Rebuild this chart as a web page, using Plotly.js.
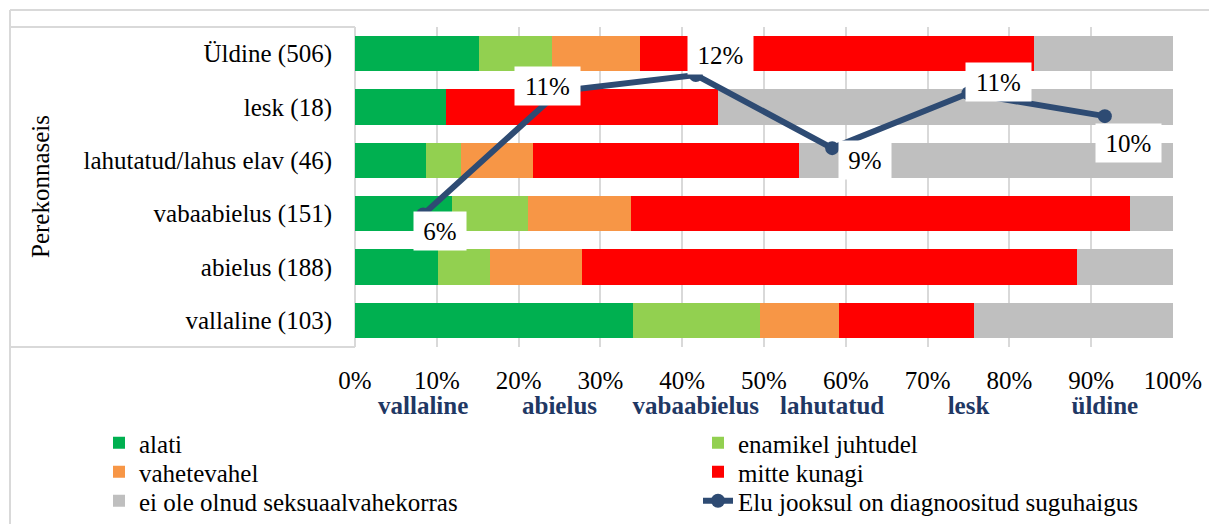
<!DOCTYPE html>
<html><head><meta charset="utf-8">
<script src="https://cdn.plot.ly/plotly-3.0.1.min.js"></script>
<style>html,body{margin:0;padding:0;background:#fff}#chart{width:1209px;height:524px}</style>
</head><body><div id="chart"></div>
<script>
// ---- data ----
const categories = ['Üldine (506)', 'lesk (18)', 'lahutatud/lahus elav (46)', 'vabaabielus (151)', 'abielus (188)', 'vallaline (103)'];
const seriesNames = ['alati', 'enamikel juhtudel', 'vahetevahel', 'mitte kunagi', 'ei ole olnud seksuaalvahekorras'];
const alati = [15.2, 11.1, 8.7, 11.9, 10.1, 34.0];
const enamikelJuhtudel = [8.9, 0, 4.3, 9.3, 6.4, 15.5];
const vahetevahel = [10.7, 0, 8.7, 12.6, 11.2, 9.7];
const mitteKunagi = [48.2, 33.3, 32.6, 60.9, 60.6, 16.5];
const eiOleOlnud = [17.0, 55.6, 45.7, 5.3, 11.7, 24.3];
const lineName = 'Elu jooksul on diagnoositud suguhaigus';
const lineCategories = ['vallaline', 'abielus', 'vabaabielus', 'lahutatud', 'lesk', 'üldine'];
const lineValues = [5.8, 11.2, 11.9, 8.7, 11.1, 10.1];
const xTickSuffix = '%';

// ---- styling / placement ----
const colors = ['#00B050', '#92D050', '#F79646', '#FF0000', '#BFBFBF'];
const lineColor = '#2E4B73';
const labelShift = [[17, -17], [-12, 5], [25, 20], [33, -12], [30, 11], [24, -27]];
const FONT = 'Liberation Serif, Times New Roman, serif';
// legend slot per entry (pixel positions of the legend box left edge / row centre)
const legendSlots = [[99, 443], [698, 443], [99, 472], [698, 472], [99, 501], [698, 501]];

// pixel helpers (plot area 355..1173 x 27..347)
const L = 355, T = 27, W = 818, H = 320;
const px = v => (v - L) / W;
const py = v => (T + H - v) / H;
const gline = (x0, y0, x1, y1) => ({type: 'line', xref: 'paper', yref: 'paper',
  x0: px(x0), y0: py(y0), x1: px(x1), y1: py(y1), line: {color: '#D9D9D9', width: 2}});
const legendId = i => i === 0 ? 'legend' : 'legend' + (i + 1);

const seriesValues = [alati, enamikelJuhtudel, vahetevahel, mitteKunagi, eiOleOlnud];
const traces = seriesValues.map((vals, i) => ({
  type: 'bar', orientation: 'h', name: seriesNames[i],
  x: vals, y: categories, xaxis: 'x', yaxis: 'y',
  marker: {color: colors[i], line: {width: 0}},
  legend: legendId(i), hoverinfo: 'skip'
}));
traces.push({
  type: 'scatter', mode: 'lines+markers', name: lineName,
  x: lineCategories, y: lineValues, xaxis: 'x2', yaxis: 'y2',
  line: {color: lineColor, width: 6}, marker: {color: lineColor, size: 14},
  legend: legendId(5), hoverinfo: 'skip'
});

const annotations = lineValues.map((v, i) => ({
  xref: 'x2', yref: 'y2', x: lineCategories[i], y: v,
  text: Math.round(v) + '%', showarrow: false,
  xanchor: 'center', yanchor: 'middle',
  xshift: labelShift[i][0], yshift: labelShift[i][1],
  bgcolor: '#FFFFFF', borderpad: 4,
  width: String(Math.round(v)).length > 1 ? 57 : 44, height: 30,
  font: {family: FONT, size: 25, color: '#000'}
}));
annotations.push({
  xref: 'paper', yref: 'paper', x: px(40), y: 0.5, xanchor: 'center', yanchor: 'middle',
  text: 'Perekonnaseis',
  textangle: -90, showarrow: false, font: {family: FONT, size: 25, color: '#000'}
});

const layout = {
  width: 1209, height: 524,
  margin: {l: L, r: 1209 - L - W, t: T, b: 524 - T - H, autoexpand: false},
  paper_bgcolor: '#fff', plot_bgcolor: '#fff',
  font: {family: FONT, size: 25, color: '#000'},
  barmode: 'stack', bargap: 0.333,
  showlegend: true,
  xaxis: {range: [0, 100], tick0: 0, dtick: 10, ticksuffix: xTickSuffix,
    tickfont: {family: FONT, size: 25, color: '#000'},
    showgrid: true, gridcolor: '#D9D9D9', gridwidth: 2,
    zeroline: true, zerolinecolor: '#D9D9D9', zerolinewidth: 2,
    showline: false, ticks: '', ticklabelstandoff: 16, automargin: false, fixedrange: true},
  yaxis: {type: 'category', autorange: 'reversed', showgrid: false, zeroline: false,
    tickfont: {family: FONT, size: 25, color: '#000'},
    showline: false, ticks: '', ticklabelstandoff: 22, automargin: false, fixedrange: true},
  xaxis2: {type: 'category', overlaying: 'x', side: 'bottom', anchor: 'y',
    categoryorder: 'array', categoryarray: lineCategories, range: [-0.5, 5.5],
    showgrid: false, zeroline: false, showline: false, ticks: '',
    tickfont: {family: FONT, size: 25, color: '#1F3864', weight: 'bold'},
    ticklabelstandoff: 41, automargin: false, fixedrange: true},
  yaxis2: {overlaying: 'y', range: [0, 14], visible: false, fixedrange: true},
  shapes: [
    gline(10, 10, 1209, 10),
    gline(10, 10, 10, 524),
    gline(10, 27, 355, 27),
    gline(10, 347, 355, 347)
  ],
  annotations: annotations
};
legendSlots.forEach((s, i) => {
  layout[legendId(i)] = {x: px(s[0]), xanchor: 'left', y: py(s[1]), yanchor: 'middle',
    orientation: 'v', font: {family: FONT, size: 25, color: '#000'},
    bgcolor: 'rgba(0,0,0,0)', borderwidth: 0};
});

Plotly.newPlot('chart', traces, layout, {displayModeBar: false, staticPlot: true});
</script>
</body></html>
